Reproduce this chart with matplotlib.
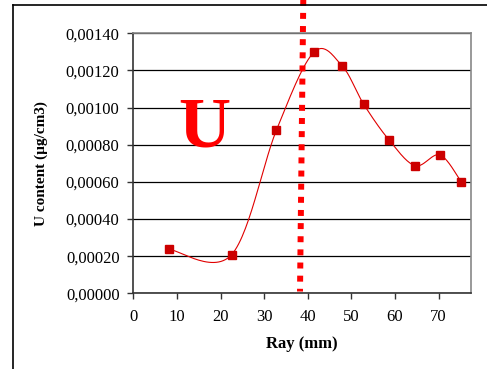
import numpy as np
import matplotlib.pyplot as plt
from matplotlib.lines import Line2D
from matplotlib.ticker import FuncFormatter

# data
ray = [8.2, 22.5, 32.8, 41.4, 47.8, 52.8, 58.6, 64.6, 70.3, 75.2]
u_content = [0.000237, 0.000208, 0.000879, 0.001298, 0.001226,
             0.001018, 0.000826, 0.000687, 0.000745, 0.000599]
x_ticks = [0, 10, 20, 30, 40, 50, 60, 70]
y_ticks = [0, 0.0002, 0.0004, 0.0006, 0.0008, 0.0010, 0.0012, 0.0014]
x_max = 77.4
limit_x = [38.95, 38.2]
limit_y = [0.00158, 0.00001]

plt.rcParams['font.family'] = ['Liberation Serif', 'DejaVu Serif']


def smooth(xs, ys, sx, sy, n=30):
    # excel-like smoothed line (catmull-rom bezier) in scaled space
    p = np.column_stack([np.array(xs) / sx, np.array(ys) / sy])
    p = np.vstack([p[0], p, p[-1]])
    out = []
    for i in range(1, len(p) - 2):
        p0, p1, p2, p3 = p[i - 1], p[i], p[i + 1], p[i + 2]
        c1 = p1 + (p2 - p0) / 6
        c2 = p2 - (p3 - p1) / 6
        t = np.linspace(0, 1, n)[:, None]
        seg = ((1 - t) ** 3 * p1 + 3 * (1 - t) ** 2 * t * c1
               + 3 * (1 - t) * t ** 2 * c2 + t ** 3 * p2)
        out.append(seg)
    out = np.vstack(out)
    return out[:, 0] * sx, out[:, 1] * sy


fig = plt.figure(figsize=(4.87, 3.69), dpi=100)
ax = fig.add_axes([0.274, 0.205, 0.693, 0.705])

sx, sy = smooth(ray, u_content, x_max, 0.0014 * 337 / 260)
ax.plot(sx, sy, color='#e00000', lw=0.8, zorder=3)
ax.plot(ray, u_content, ls='none', marker='s', ms=5.2,
        color='#cc0000', zorder=4)

ax.plot(limit_x, limit_y, color='#ff0000', lw=4.3, dashes=(1.0, 1.2),
        clip_on=False, zorder=5)

ax.text(16.2, 0.000885, 'U', color='#ff0000', fontsize=52,
        fontweight='bold', ha='center', va='center')

ax.set_xlim(0, x_max)
ax.set_ylim(0, 0.0014)
ax.set_xticks(x_ticks)
ax.set_yticks(y_ticks)
ax.yaxis.set_major_formatter(FuncFormatter(lambda v, p: f'{v:.5f}'.replace('.', ',')))
ax.grid(axis='y', color='black', lw=0.9)
ax.tick_params(labelsize=12, length=4, width=1, color='#333333')
ax.tick_params(axis='y', pad=6)
ax.tick_params(axis='x', pad=7)

for s in ['left', 'bottom']:
    ax.spines[s].set_color('#333333')
    ax.spines[s].set_linewidth(1.2)
for s in ['right', 'top']:
    ax.spines[s].set_color('#888888')
    ax.spines[s].set_linewidth(1.2)

ax.set_xlabel('Ray (mm)', fontsize=12, fontweight='bold', labelpad=8)
ax.set_ylabel('U content (µg/cm3)', fontsize=11, fontweight='bold')
ax.yaxis.set_label_coords(-0.253, 0.5)

# outer frame
fig.add_artist(Line2D([13 / 487, 13 / 487], [0, 1 - 5 / 369], color='black',
                      lw=1.2, transform=fig.transFigure))
fig.add_artist(Line2D([13 / 487, 1], [1 - 5 / 369, 1 - 5 / 369], color='black',
                      lw=1.2, transform=fig.transFigure))

fig.savefig('out.png', dpi=100)
